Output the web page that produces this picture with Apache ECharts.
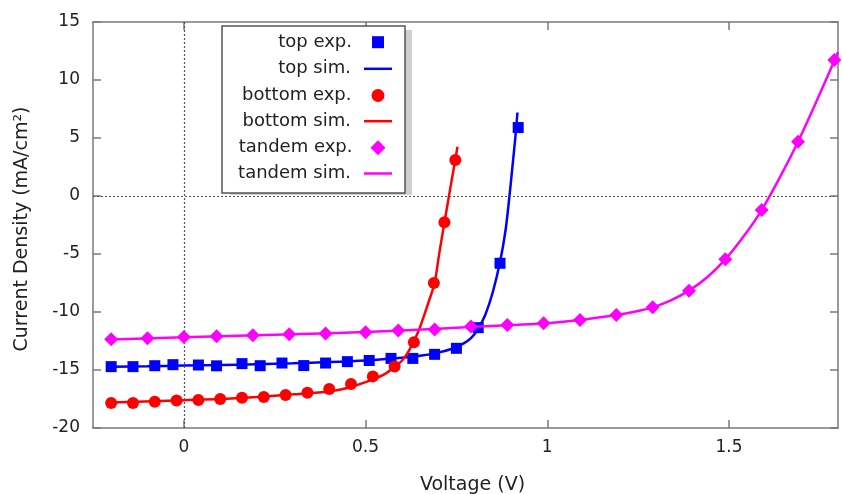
<!DOCTYPE html>
<html><head><meta charset="utf-8">
<script src="https://cdn.jsdelivr.net/npm/echarts@6/dist/echarts.min.js"></script>
<style>html,body{margin:0;padding:0;background:#fff}#c{width:843px;height:494px}</style>
</head><body><div id="c"></div>
<script>
// ---- data (Voltage V, Current Density mA/cm2) ----
const topExpV = [-0.2, -0.14, -0.08, -0.03, 0.04, 0.09, 0.16, 0.21, 0.27, 0.33, 0.39, 0.45, 0.51, 0.57, 0.63, 0.69, 0.75, 0.81, 0.87, 0.92];
const topExpJ = [-14.71, -14.71, -14.63, -14.54, -14.57, -14.64, -14.45, -14.63, -14.4, -14.62, -14.4, -14.28, -14.18, -14.0, -14.0, -13.65, -13.13, -11.35, -5.8, 5.9];
const topSimV = [-0.2, -0.1, 0.0, 0.1, 0.2, 0.3, 0.4, 0.5, 0.6, 0.65, 0.7, 0.74, 0.77, 0.79, 0.81, 0.83, 0.85, 0.87, 0.885, 0.896, 0.905, 0.912, 0.918];
const topSimJ = [-14.72, -14.68, -14.62, -14.57, -14.5, -14.42, -14.32, -14.18, -13.95, -13.78, -13.5, -13.15, -12.7, -12.25, -11.45, -10.2, -8.3, -5.7, -3.0, 0.0, 2.8, 5.0, 7.2];
const botExpV = [-0.2, -0.14, -0.08, -0.02, 0.04, 0.1, 0.16, 0.22, 0.28, 0.34, 0.4, 0.46, 0.52, 0.58, 0.633, 0.688, 0.717, 0.747];
const botExpJ = [-17.85, -17.85, -17.73, -17.62, -17.59, -17.5, -17.4, -17.33, -17.16, -16.96, -16.64, -16.2, -15.55, -14.7, -12.6, -7.5, -2.27, 3.1];
const botSimV = [-0.2, 0.0, 0.1, 0.2, 0.3, 0.4, 0.45, 0.5, 0.55, 0.575, 0.6, 0.62, 0.645, 0.66, 0.675, 0.69, 0.703, 0.717, 0.73, 0.74, 0.753];
const botSimJ = [-17.8, -17.6, -17.5, -17.32, -17.1, -16.85, -16.55, -16.05, -15.4, -14.85, -14.2, -13.3, -11.7, -10.4, -9.0, -7.5, -4.9, -2.3, 0.1, 1.9, 4.25];
const tanExpV = [-0.2, -0.1, 0.0, 0.09, 0.19, 0.29, 0.39, 0.5, 0.59, 0.69, 0.79, 0.89, 0.99, 1.09, 1.19, 1.29, 1.39, 1.49, 1.59, 1.69, 1.79];
const tanExpJ = [-12.35, -12.27, -12.15, -12.1, -12.0, -11.92, -11.85, -11.75, -11.6, -11.5, -11.25, -11.12, -10.98, -10.69, -10.26, -9.6, -8.16, -5.46, -1.21, 4.68, 11.72];
const tanSimV = [-0.2, 0.0, 0.2, 0.4, 0.6, 0.8, 0.9, 1.0, 1.09, 1.19, 1.24, 1.29, 1.34, 1.39, 1.44, 1.49, 1.54, 1.59, 1.64, 1.69, 1.74, 1.8];
const tanSimJ = [-12.38, -12.18, -12.0, -11.83, -11.6, -11.28, -11.12, -10.96, -10.69, -10.26, -9.98, -9.6, -9.0, -8.16, -7.0, -5.46, -3.5, -1.21, 1.6, 4.68, 8.1, 12.4];
const xTicks = [0, 0.5, 1, 1.5];
const names = ['top exp.', 'top sim.', 'bottom exp.', 'bottom sim.', 'tandem exp.', 'tandem sim.'];

const BLUE = '#0000ff', RED = '#ff0000', MAG = '#ff00ff';
const FONT = 'DejaVu Sans';
const TXT = '#222222';
const AX = '#7a7a7a';
const zip = (a, b) => a.map((v, i) => [v, b[i]]);

const chart = echarts.init(document.getElementById('c'), null, {renderer: 'canvas'});

function xAx(pos, labels) {
  return {
    type: 'value', position: pos, min: -0.25, max: 1.8,
    axisLine: {show: true, onZero: false, lineStyle: {color: AX, width: 1.5}},
    axisTick: {show: true, inside: true, length: 8, customValues: xTicks, lineStyle: {color: AX, width: 1.5}},
    axisLabel: {show: labels, customValues: xTicks, margin: 11, fontFamily: FONT, fontSize: 17, color: TXT},
    splitLine: {show: false},
    name: labels ? 'Voltage (V)' : '', nameLocation: 'middle', nameGap: 48,
    nameTextStyle: {fontFamily: FONT, fontSize: 19, color: TXT, padding: [0, 0, 0, 14]}
  };
}
function yAx(pos, labels) {
  return {
    type: 'value', position: pos, min: -20, max: 15, interval: 5,
    axisLine: {show: true, onZero: false, lineStyle: {color: AX, width: 1.5}},
    axisTick: {show: true, inside: true, length: 8, lineStyle: {color: AX, width: 1.5}},
    axisLabel: {show: labels, margin: 13, fontFamily: FONT, fontSize: 17, color: TXT},
    splitLine: {show: false},
    name: labels ? 'Current Density (mA/cm²)' : '', nameLocation: 'middle', nameGap: 61, nameRotate: 90,
    nameTextStyle: {fontFamily: FONT, fontSize: 19, color: TXT, padding: [0, 8, 0, 0]}
  };
}

const iconCX = 378;
const rows = [42.7, 69.3, 96, 121.7, 148.3, 174];
const legIcon = [
  {icon: 'rect', w: 12, h: 12, pad: 15},
  {icon: 'rect', w: 28, h: 2.5, pad: 8},
  {icon: 'circle', w: 13, h: 13, pad: 15},
  {icon: 'rect', w: 28, h: 2.5, pad: 8},
  {icon: 'diamond', w: 15, h: 15, pad: 13},
  {icon: 'rect', w: 28, h: 2.5, pad: 8}
];
const legends = names.map((n, i) => ({
  data: [{name: n, icon: legIcon[i].icon}],
  orient: 'horizontal', align: 'right', selectedMode: false, z: 20,
  right: 843 - (iconCX + legIcon[i].w / 2),
  top: rows[i] - 9.5,
  itemWidth: legIcon[i].w, itemHeight: legIcon[i].h, padding: 0,
  itemStyle: {borderWidth: 0, opacity: 1},
  textStyle: {fontFamily: FONT, fontSize: 18, color: TXT, padding: [0, legIcon[i].pad, 0, 0]}
}));

chart.setOption({
  animation: false,
  backgroundColor: '#ffffff',
  grid: {left: 93, right: 5, top: 22, bottom: 66, containLabel: false, outerBoundsMode: 'none'},
  xAxis: [xAx('bottom', true), xAx('top', false)],
  yAxis: [yAx('left', true), yAx('right', false)],
  legend: legends,
  graphic: [
    {type: 'rect', z: 0, shape: {x: 230, y: 30, width: 182, height: 165}, style: {fill: '#cfcfcf'}},
    {type: 'rect', z: 10, shape: {x: 222, y: 26, width: 183, height: 167}, style: {fill: '#ffffff', stroke: '#555555', lineWidth: 1.5}}
  ],
  series: [
    {name: names[0], type: 'scatter', data: zip(topExpV, topExpJ), symbol: 'rect', symbolSize: 11,
     itemStyle: {color: BLUE, opacity: 1}, z: 3,
     markLine: {silent: true, symbol: 'none', label: {show: false}, animation: false,
       lineStyle: {color: '#555555', width: 1.2, type: [2, 2]},
       data: [{yAxis: 0}, {xAxis: 0}]}},
    {name: names[1], type: 'line', data: zip(topSimV, topSimJ), showSymbol: false, symbol: 'none',
     smooth: 0.3, lineStyle: {color: BLUE, width: 2.5}, itemStyle: {color: BLUE}, z: 3},
    {name: names[2], type: 'scatter', data: zip(botExpV, botExpJ), symbol: 'circle', symbolSize: 12,
     itemStyle: {color: RED, opacity: 1}, z: 4},
    {name: names[3], type: 'line', data: zip(botSimV, botSimJ), showSymbol: false, symbol: 'none',
     smooth: 0.3, lineStyle: {color: RED, width: 2.5}, itemStyle: {color: RED}, z: 4},
    {name: names[4], type: 'scatter', data: zip(tanExpV, tanExpJ), symbol: 'diamond', symbolSize: 14,
     itemStyle: {color: MAG, opacity: 1}, z: 5},
    {name: names[5], type: 'line', data: zip(tanSimV, tanSimJ), showSymbol: false, symbol: 'none',
     smooth: 0.3, lineStyle: {color: MAG, width: 2.5}, itemStyle: {color: MAG}, z: 5}
  ]
});
</script></body></html>
